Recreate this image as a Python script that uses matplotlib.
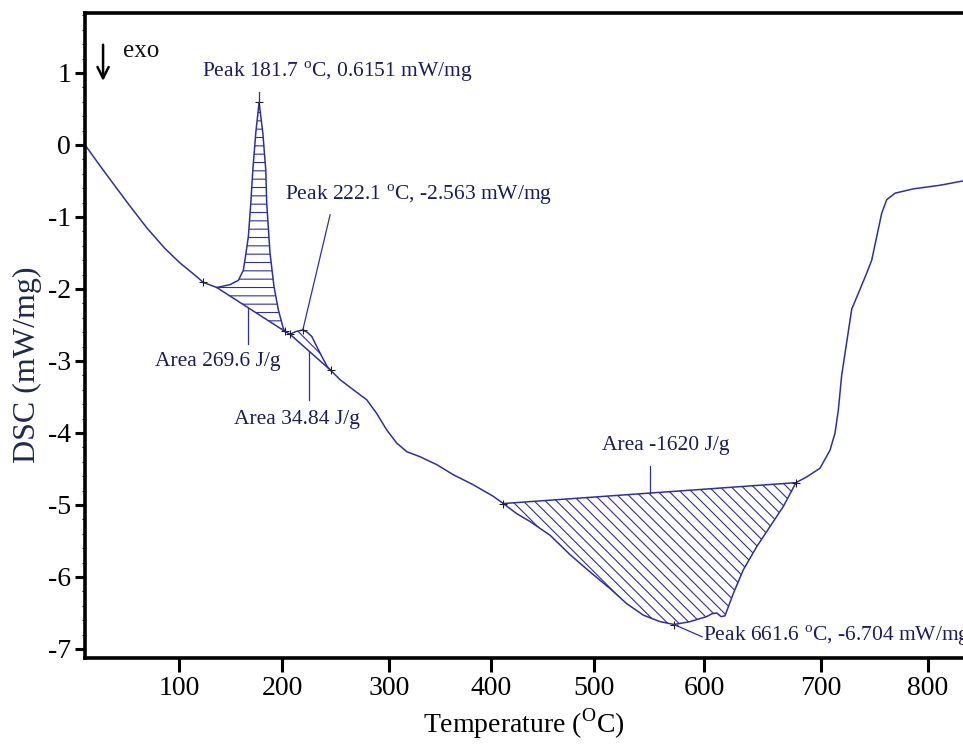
import numpy as np
import matplotlib
matplotlib.use('Agg')
import matplotlib.pyplot as plt

plt.rcParams['font.family'] = ['Liberation Serif', 'DejaVu Serif']
plt.rcParams['mathtext.fontset'] = 'custom'
plt.rcParams['mathtext.rm'] = 'Liberation Serif'
plt.rcParams['axes.unicode_minus'] = False
plt.rcParams['hatch.linewidth'] = 0.8

# DSC curve
temp = [8.7, 23.3, 36.2, 52.4, 68.6, 86.4, 101.0, 115.5, 123.6, 136.6,
        149.5, 157.6, 162.4, 165.0, 167.3, 169.6, 171.6, 174.5, 177.7,
        181.3, 184.2, 185.1, 188.3, 192.2, 196.4, 201.2, 202.8, 207.5,
        213.1, 219.4, 223.4, 227.8, 231.8, 235.5, 242.3, 245.5,
        254.2, 266.6, 279.2, 288.5, 297.9, 307.5, 317.4, 330.4, 346.8,
        363.0, 382.6, 402.2, 411.9,
        424.9, 437.9, 457.3, 476.7, 496.1, 514.5, 529.7, 544.8, 560.0,
        572.7, 587.3, 602.3, 606.8, 610.9, 614.5, 617.9, 625.0, 633.6,
        645.0, 656.4, 667.8, 678.6,
        687.8, 699.1, 708.4, 713.1, 716.2, 719.3, 724.0, 728.7, 734.9,
        742.7, 747.4, 752.1, 756.7, 761.4, 769.2, 786.3, 811.2, 832.7]
dsc = [0.00, -0.29, -0.54, -0.85, -1.15, -1.44, -1.64, -1.81, -1.91, -1.98,
       -1.94, -1.88, -1.74, -1.50, -1.27, -0.82, -0.35, 0.17, 0.59,
       0.17, -0.35, -0.81, -1.50, -1.97, -2.29, -2.55, -2.59, -2.63,
       -2.59, -2.57, -2.60, -2.66, -2.78, -2.89, -3.08, -3.13,
       -3.26, -3.40, -3.54, -3.73, -3.96, -4.14, -4.26, -4.33, -4.44,
       -4.58, -4.72, -4.88, -4.98,
       -5.12, -5.23, -5.42, -5.69, -5.93, -6.16, -6.37, -6.53, -6.62,
       -6.66, -6.62, -6.55, -6.51, -6.50, -6.55, -6.54, -6.23, -5.90,
       -5.58, -5.30, -5.02, -4.69,
       -4.61, -4.49, -4.24, -4.00, -3.68, -3.20, -2.74, -2.28, -2.06,
       -1.78, -1.60, -1.27, -0.95, -0.76, -0.67, -0.61, -0.56, -0.50]

# integration limits of the three effects
peak_limits = [(136.6, 202.8), (207.5, 245.5), (411.9, 678.6)]
peak_hatch = ['--', '\\\\\\', '\\\\\\']
markers_t = [123.6, 177.7, 202.8, 207.5, 219.4, 245.5, 411.9, 572.7, 678.6]

tick_temps = [100, 200, 300, 400, 500, 600, 700, 800]

# instrument axis is not linear in temperature: spacing of the ticks
anchor_t = [-100, 0, 100, 200, 300, 400, 500, 600, 700, 800, 900, 1000]
anchor_u = [-27, 76, 179, 282, 389, 491, 594, 704, 821, 928, 1035, 1142]

def fwd(x):
    return np.interp(x, anchor_t, anchor_u)

def inv(u):
    return np.interp(u, anchor_u, anchor_t)

temp = np.array(temp)
dsc = np.array(dsc)

line_col = '#30309a'
text_col = '#1c1c5c'

fig = plt.figure(figsize=(9.63, 7.44), dpi=100)
ax = fig.add_axes([0.0883, 0.1156, 0.9117, 0.867])
ax.set_xscale('function', functions=(fwd, inv))

ax.plot(temp, dsc, color=line_col, lw=1.1)

for (t0, t1), h in zip(peak_limits, peak_hatch):
    v0 = np.interp(t0, temp, dsc)
    v1 = np.interp(t1, temp, dsc)
    inside = (temp > t0) & (temp < t1)
    x = np.concatenate([[t0], temp[inside], [t1]])
    y = np.interp(x, temp, dsc)
    base = v0 + (v1 - v0) * (fwd(x) - fwd(t0)) / (fwd(t1) - fwd(t0))
    ax.fill_between(x, y, base, facecolor='none', edgecolor=line_col,
                    hatch=h, linewidth=0)
    ax.plot([t0, t1], [v0, v1], color=line_col, lw=1.1)

ax.plot(markers_t, np.interp(markers_t, temp, dsc), '+', color='#202020',
        ms=6, mew=0.8)

# leader lines and labels
lead = dict(color=line_col, lw=0.9)
ax.plot([177.7, 177.7], [0.59, 0.74], **lead)
ax.plot([244.9, 219.4], [-0.97, -2.57], **lead)
ax.plot([167.3, 167.3], [-2.26, -2.76], **lead)
ax.plot([225.5, 225.5], [-2.88, -3.54], **lead)
ax.plot([550.9, 550.9], [-4.83, -4.46], **lead)
ax.plot([572.7, 598.2], [-6.66, -6.83], **lead)

fs = 15.5
ax.text(251.4, 1.01, 'Peak 181.7 $^{\\mathrm{o}}$C, 0.6151 mW/mg', color=text_col,
        fontsize=fs, ha='center', va='center')
ax.text(202.8, -0.69, 'Peak 222.1 $^{\\mathrm{o}}$C, -2.563 mW/mg', color=text_col,
        fontsize=fs, ha='left', va='center')
ax.text(137.9, -3.01, 'Area 269.6 J/g', color=text_col, fontsize=fs,
        ha='center', va='center')
ax.text(214.0, -3.81, 'Area 34.84 J/g', color=text_col, fontsize=fs,
        ha='center', va='center')
ax.text(565.5, -4.18, 'Area -1620 J/g', color=text_col, fontsize=fs,
        ha='center', va='center')
ax.text(599.1, -6.82, 'Peak 661.6 $^{\\mathrm{o}}$C, -6.704 mW/mg', color=text_col,
        fontsize=fs, ha='left', va='center')

ax.annotate('', xy=(26.2, 0.85), xytext=(26.2, 1.43),
            arrowprops=dict(arrowstyle='->,head_length=0.8,head_width=0.4',
                            color='black', lw=1.8))
ax.text(45.6, 1.31, 'exo', fontsize=18, color='#111111', ha='left', va='center')

ax.set_xlim(8.7, 832.7)
ax.set_ylim(-7.125, 1.833)
ax.set_xticks(tick_temps)
ax.set_yticks(range(-7, 2))
ax.set_yticks(np.arange(-7, 1.9, 0.2), minor=True)

for s in ['left', 'bottom', 'top']:
    ax.spines[s].set_linewidth(2.6)
ax.spines['right'].set_visible(False)

ax.tick_params(axis='x', which='major', direction='out', length=10, width=2.2,
               labelsize=20, pad=3)
ax.tick_params(axis='y', which='major', direction='out', length=7, width=2.2,
               labelsize=20, pad=3)
ax.tick_params(axis='y', which='minor', direction='out', length=2.5, width=0.8)
ax.tick_params(axis='x', which='minor', bottom=False)

ax.set_xlabel('Temperature ($^{\\mathrm{O}}$C)', fontsize=20, labelpad=4)
ax.set_ylabel('DSC (mW/mg)', fontsize=23, color='#1e2a4a')
ax.yaxis.set_label_coords(-0.049, 0.455)

fig.savefig('out.png', dpi=100)
